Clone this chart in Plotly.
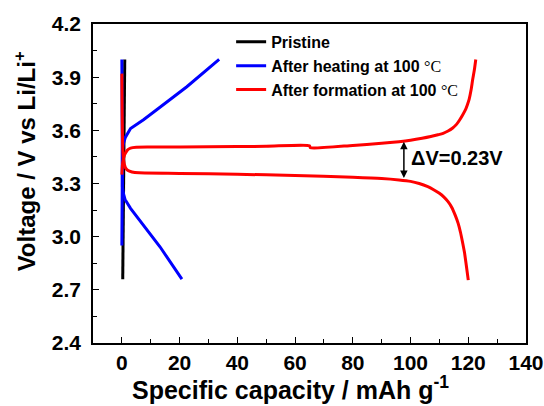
import plotly.graph_objects as go

# Pristine
pristine_x = [0.3, 0.5, 0.8, 1.0]
pristine_v = [2.76, 3.2, 3.7, 4.0]

# After heating at 100 °C
blue_charge_x = [0, 0, 0.2, 0.6, 1.2, 3, 7.5, 13.2, 22.5, 33.7]
blue_charge_v = [2.95, 3.40, 3.49, 3.53, 3.56, 3.61, 3.66, 3.73, 3.846, 4.0]
blue_dis_x = [0, 0, 0.2, 0.6, 1.1, 3, 6.3, 13.2, 20.8]
blue_dis_v = [4.0, 3.35, 3.28, 3.24, 3.21, 3.16, 3.09, 2.943, 2.76]

# After formation at 100 °C
red_charge_x = [0, 0.1, 0.3, 0.7, 1.2, 2, 3, 5, 10, 30, 50, 65, 65.3, 80, 90, 96, 100, 104,
                107, 109.5, 111.3, 113, 114.5, 116, 117, 118, 119, 119.7, 120.3, 121,
                121.5, 122.1, 122.6]
red_charge_v = [3.35, 3.38, 3.42, 3.45, 3.47, 3.49, 3.50, 3.505, 3.506, 3.507, 3.51, 3.513,
                3.502, 3.515, 3.527, 3.536, 3.544, 3.555, 3.565, 3.575, 3.583, 3.596, 3.612,
                3.635, 3.658, 3.685, 3.715, 3.745, 3.775, 3.83, 3.884, 3.94, 4.0]
red_dis_x = [0, 0.1, 0.3, 0.6, 1.2, 2, 3.5, 6, 20, 40, 60, 80, 90, 96, 100, 103, 106, 108,
             110, 111.5, 113, 114.3, 115.5, 116.5, 117.3, 118, 118.7, 119.3, 120]
red_dis_v = [3.92, 3.7, 3.5, 3.43, 3.39, 3.375, 3.365, 3.36, 3.357, 3.352, 3.345, 3.335,
             3.328, 3.32, 3.312, 3.30, 3.282, 3.265, 3.245, 3.225, 3.198, 3.165, 3.12,
             3.075, 3.025, 2.97, 2.91, 2.84, 2.755]

x_ticks = [0, 20, 40, 60, 80, 100, 120, 140]
y_ticks = [2.4, 2.7, 3.0, 3.3, 3.6, 3.9, 4.2]
y_tick_labels = ["2.4", "2.7", "3.0", "3.3", "3.6", "3.9", "4.2"]

x_title = "Specific capacity / mAh g<sup>-1</sup>"
y_title = "Voltage / V vs Li/Li<sup>+</sup>"

dv_arrow_x = 97.7
dv_top = 3.536
dv_bottom = 3.322
dv_label = "ΔV=0.23V"

FONT = "Arial, Liberation Sans, sans-serif"
deg = "<span style='font-family:\"Times New Roman\", \"Liberation Serif\", serif;font-weight:normal'>°C</span>"

fig = go.Figure()
fig.add_trace(go.Scatter(x=pristine_x, y=pristine_v, mode="lines", name="Pristine",
                         line=dict(color="black", width=3)))
fig.add_trace(go.Scatter(x=blue_charge_x + [None] + blue_dis_x,
                         y=blue_charge_v + [None] + blue_dis_v, mode="lines",
                         name="After heating at 100 " + deg,
                         line=dict(color="#0000ff", width=3)))
fig.add_trace(go.Scatter(x=red_charge_x + [None] + red_dis_x,
                         y=red_charge_v + [None] + red_dis_v, mode="lines",
                         name="After formation at 100 " + deg,
                         line=dict(color="#ff0000", width=3, shape="spline", smoothing=0.6)))

fig.add_annotation(x=dv_arrow_x, y=dv_top, ax=dv_arrow_x, ay=dv_bottom,
                   xref="x", yref="y", axref="x", ayref="y", text="",
                   showarrow=True, arrowhead=2, arrowside="end+start",
                   arrowsize=1, arrowwidth=1.5, arrowcolor="black")
fig.add_annotation(x=99.3, y=3.444, xref="x", yref="y", text=dv_label, showarrow=False,
                   xanchor="left", yanchor="middle",
                   font=dict(family=FONT, size=20, color="black", weight="bold"))

# axis titles (placed as in the reference, slightly off-centre)
fig.add_annotation(x=0.455, y=-0.142, xref="paper", yref="paper", text=x_title,
                   showarrow=False, xanchor="center", yanchor="middle",
                   font=dict(family=FONT, size=25, color="black", weight="bold"))
fig.add_annotation(x=-0.155, y=0.569, xref="paper", yref="paper", text=y_title,
                   showarrow=False, xanchor="center", yanchor="middle", textangle=-90,
                   font=dict(family=FONT, size=24, color="black", weight="bold"))

fig.update_layout(
    width=544, height=406,
    margin=dict(l=93, r=18, t=24, b=63, autoexpand=False),
    paper_bgcolor="white", plot_bgcolor="white",
    font=dict(family=FONT, color="black"),
    showlegend=True,
    legend=dict(x=0.319, y=0.997, xanchor="left", yanchor="top",
                bgcolor="rgba(0,0,0,0)", borderwidth=0,
                font=dict(family=FONT, size=16, color="black", weight="bold"),
                tracegroupgap=0, itemwidth=30),
    xaxis=dict(range=[-10, 140], tickvals=x_ticks, ticks="inside", ticklen=6,
               tickwidth=1.2, tickcolor="black", automargin=False,
               minor=dict(dtick=10, tick0=0, ticks="inside", ticklen=4, tickcolor="black"),
               showline=True, linecolor="black", linewidth=1.5, mirror=True,
               showgrid=False, zeroline=False,
               tickfont=dict(family=FONT, size=21, color="black", weight="bold")),
    yaxis=dict(range=[2.4, 4.2], tickvals=y_ticks, ticktext=y_tick_labels,
               ticks="inside", ticklen=6, tickwidth=1.2, tickcolor="black", automargin=False,
               ticklabelstandoff=6,
               minor=dict(dtick=0.15, tick0=2.4, ticks="inside", ticklen=4, tickcolor="black"),
               showline=True, linecolor="black", linewidth=1.5, mirror=True,
               showgrid=False, zeroline=False,
               tickfont=dict(family=FONT, size=21, color="black", weight="bold")),
)

fig.write_html("out.html", post_script="document.body.style.margin='0';",
               config={"displayModeBar": False})
